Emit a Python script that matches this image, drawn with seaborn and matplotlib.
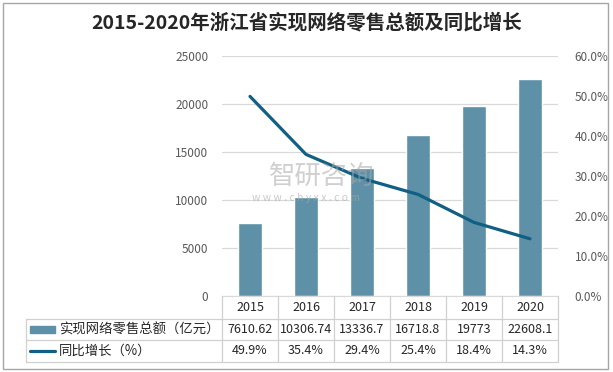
import matplotlib
matplotlib.use("Agg")
import matplotlib.pyplot as plt
import matplotlib.transforms as mtransforms
from matplotlib.patches import Rectangle
from matplotlib.lines import Line2D
import seaborn as sns
import numpy as np

years = ["2015", "2016", "2017", "2018", "2019", "2020"]
sales = [7610.62, 10306.74, 13336.7, 16718.8, 19773, 22608.1]
sales_labels = ["7610.62", "10306.74", "13336.7", "16718.8", "19773", "22608.1"]
growth = [49.9, 35.4, 29.4, 25.4, 18.4, 14.3]
growth_labels = ["49.9%", "35.4%", "29.4%", "25.4%", "18.4%", "14.3%"]
title = "2015-2020年浙江省实现网络零售总额及同比增长"
series_names = ["实现网络零售总额（亿元）", "同比增长（%）"]
left_ticks = [0, 5000, 10000, 15000, 20000, 25000]
right_ticks = [0, 10, 20, 30, 40, 50, 60]

sns.set_style("white")
plt.rcParams['font.family'] = ['Noto Sans CJK SC', 'DejaVu Sans']

BAR = "#5e91a8"
LINE = "#115f82"
GRID = "#d9d9d9"
TXT = "#595959"
W, H = 613, 372

fig = plt.figure(figsize=(W / 100, H / 100), dpi=100)
ax = fig.add_axes([222 / W, 1 - 296 / H, 336 / W, 240 / H])

sns.barplot(x=years, y=sales, color=BAR, width=0.42, saturation=1, ax=ax, zorder=2)
ax.set_xlim(-0.5, 5.5)
ax.set_ylim(0, 25000)
ax.set_yticks(left_ticks)
ax.set_yticklabels([str(t) for t in left_ticks])
ax.yaxis.grid(True, color=GRID, linewidth=0.9, zorder=0)
ax.set_axisbelow(True)
ax.tick_params(axis='y', length=0, pad=10, labelsize=8.5, labelcolor=TXT)
ax.tick_params(axis='x', length=0, labelbottom=False)
ax.set_xlabel("")
ax.set_ylabel("")
for s in ["top", "right", "left"]:
    ax.spines[s].set_visible(False)
ax.spines["bottom"].set_color(GRID)

ax2 = ax.twinx()
sns.lineplot(x=np.arange(len(years)), y=growth, color=LINE, linewidth=2.3, ax=ax2, zorder=3)
ax2.set_ylim(0, 60)
ax2.set_yticks(right_ticks)
ax2.set_yticklabels([f"{t:.1f}%" for t in right_ticks])
ax2.tick_params(axis='y', length=0, pad=12, labelsize=8.5, labelcolor=TXT)
ax2.set_xlim(-0.5, 5.5)
for s in ["top", "right", "left", "bottom"]:
    ax2.spines[s].set_visible(False)

# Title
fig.text(0.5, 1 - 23 / H, title, ha='center', va='center', fontsize=14,
         fontweight='bold', color="#262626")

# Data table
tb = mtransforms.blended_transform_factory(ax.transData, fig.transFigure)
tf = fig.transFigure
y_top, y1, y2, y3 = [1 - v / H for v in (296, 319, 340, 362)]
x_left = 26 / W
TCOL = "#d0d0d0"
for yy in (y1, y2, y3):
    fig.add_artist(Line2D([x_left, 558 / W], [yy, yy], color=TCOL, lw=0.9, transform=tf))
fig.add_artist(Line2D([x_left, x_left], [y1, y3], color=TCOL, lw=0.9, transform=tf))
for k in range(len(years) + 1):
    fig.add_artist(Line2D([k - 0.5, k - 0.5], [y_top, y3], color=TCOL, lw=0.9, transform=tb))
ty = [(y_top + y1) / 2, (y1 + y2) / 2, (y2 + y3) / 2]
for i, yr in enumerate(years):
    fig.text(i, ty[0], yr, transform=tb, ha='center', va='center', fontsize=9, color="#262626")
    fig.text(i, ty[1], sales_labels[i], transform=tb, ha='center', va='center', fontsize=9, color="#262626")
    fig.text(i, ty[2], growth_labels[i], transform=tb, ha='center', va='center', fontsize=9, color="#262626")
fig.add_artist(Rectangle((30 / W, ty[1] - 3.5 / H), 25 / W, 7 / H, color=BAR, transform=tf))
fig.add_artist(Line2D([30 / W, 55 / W], [ty[2], ty[2]], color=LINE, lw=2.3, transform=tf))
fig.text(59 / W, ty[1], series_names[0], transform=tf, ha='left', va='center', fontsize=9.6, color="#262626")
fig.text(59 / W, ty[2], series_names[1], transform=tf, ha='left', va='center', fontsize=9.6, color="#262626")

# Watermark
fig.text(322 / W, 1 - 176 / H, "智研咨询", ha='center', va='center', fontsize=19,
         color="#a8a8a8", alpha=0.55, zorder=5)
fig.text(306 / W, 1 - 198 / H, "w w w . c h y x x . c o m", ha='center', va='center',
         fontsize=7.5, color="#a8a8a8", alpha=0.6, zorder=5)

# Outer border
fig.add_artist(Rectangle((3 / W, 3 / H), 605 / W, 366 / H, fill=False,
                         edgecolor="#a6a6a6", lw=1.0, transform=tf))

fig.savefig("out.png", dpi=100)
